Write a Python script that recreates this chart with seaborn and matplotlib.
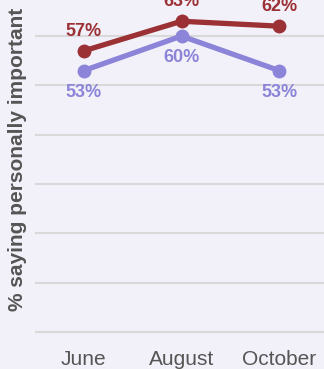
import matplotlib
matplotlib.use("Agg")
import matplotlib.pyplot as plt
import seaborn as sns
import pandas as pd

months = ["June", "August", "October"]
series_names = ["Group A", "Group B"]
values_a = [57, 63, 62]
values_b = [53, 60, 53]
y_label = "% saying personally important"

colors = {"Group A": "#9b3035", "Group B": "#8b84d8"}
bg = "#f2f1f9"

df = pd.DataFrame({
    "month": months * 2,
    "value": values_a + values_b,
    "series": [series_names[0]] * 3 + [series_names[1]] * 3,
})

sns.set_theme(style="white")
plt.rcParams["font.family"] = ["Liberation Sans", "DejaVu Sans"]

fig = plt.figure(figsize=(3.24, 3.69), dpi=100)
fig.patch.set_facecolor(bg)
ax = fig.add_axes([35 / 324, 0.0735, 293 / 324, 0.9625])
ax.set_facecolor(bg)

sns.lineplot(data=df, x="month", y="value", hue="series", hue_order=series_names[::-1],
             palette=colors, marker="o", markersize=10, linewidth=3.8,
             markeredgewidth=0, legend=False, ax=ax, sort=False)

ax.set_xlim(-0.5, 2.5)
ax.set_ylim(-2, 70)
ax.set_yticks([0, 10, 20, 30, 40, 50, 60])
ax.set_yticklabels([])
ax.yaxis.grid(True, color="#d9d9d9", linewidth=1.5)
ax.set_axisbelow(True)
for s in ax.spines.values():
    s.set_visible(False)
ax.tick_params(axis="y", length=0)
ax.tick_params(axis="x", length=0, pad=6, labelsize=15, labelcolor="#555555")
ax.set_xlabel("")
ax.set_ylabel(y_label, fontsize=15, fontweight="bold", color="#555555")
ax.yaxis.set_label_coords(-0.026, 0.515)

for i, v in enumerate(values_a):
    ax.annotate(f"{v}%", (i, v), xytext=(0, 14), textcoords="offset points",
                ha="center", va="center", fontsize=13, fontweight="bold",
                color=colors["Group A"])
for i, v in enumerate(values_b):
    ax.annotate(f"{v}%", (i, v), xytext=(0, -15.5), textcoords="offset points",
                ha="center", va="center", fontsize=13, fontweight="bold",
                color=colors["Group B"])

fig.savefig("out.png", dpi=100, facecolor=bg)
